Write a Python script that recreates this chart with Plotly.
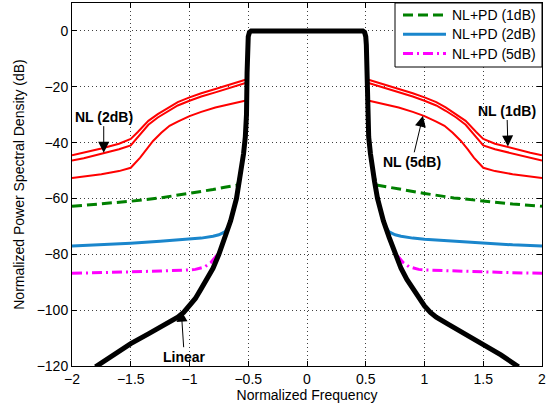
import plotly.graph_objects as go

# ---- data (positive-frequency half; every curve is mirrored onto the negative side) ----
freq_linear = [0, 0.475, 0.49, 0.5, 0.505, 0.51, 0.515, 0.525, 0.54, 0.555, 0.575, 0.6,
               0.65, 0.7, 0.75, 0.8, 0.85, 0.9, 0.95, 1.0, 1.05, 1.1, 1.2, 1.35, 1.5, 1.65, 1.8]
psd_linear = [0, 0, -0.5, -2, -5, -15, -30, -38, -44, -49, -54, -60,
              -68, -74, -80, -85, -89, -92.3, -95.8, -98.5, -100.8, -102.5, -105, -108.5,
              -112, -116, -120.3]

freq_pd1 = [0.56, 0.59, 0.7, 0.8, 0.9, 1.0, 1.25, 1.5, 1.75, 2.0]
psd_pd1 = [-50, -55.2, -56, -56.8, -57.4, -58.2, -59.8, -61, -62, -62.8]

freq_pd2 = [0.6, 0.64, 0.66, 0.7, 0.75, 0.8, 0.9, 1.0, 1.25, 1.5, 1.75, 2.0]
psd_pd2 = [-60, -67, -69.5, -72, -73, -73.5, -74.2, -74.6, -75.3, -76, -76.6, -77]

freq_pd5 = [0.7, 0.75, 0.78, 0.82, 0.87, 0.95, 1.0, 1.25, 1.5, 1.75, 2.0]
psd_pd5 = [-74, -79.5, -81, -83, -84.5, -85.4, -85.6, -86, -86.3, -86.6, -86.8]

freq_nl1 = [0.51, 0.55, 0.65, 0.78, 0.9, 1.0, 1.1, 1.18, 1.27, 1.35, 1.44, 1.5, 1.6, 1.75, 1.9, 2.0]
psd_nl1 = [-17.3, -17.8, -19.2, -20.8, -22.3, -23.8, -25.5, -27.4, -29.8, -32.2, -36.2, -38.7,
           -40.4, -42.1, -43.6, -44.5]

freq_nl2 = [0.51, 0.55, 0.65, 0.78, 0.9, 1.0, 1.1, 1.18, 1.27, 1.35, 1.44, 1.5, 1.6, 1.75, 1.9, 2.0]
psd_nl2 = [-18.5, -19, -20.4, -22, -23.5, -25, -26.7, -28.6, -31, -33.6, -38, -41,
           -42.4, -44, -45.6, -46.4]

freq_nl5 = [0.51, 0.55, 0.65, 0.78, 0.9, 1.0, 1.1, 1.17, 1.24, 1.31, 1.37, 1.42, 1.5, 1.6,
            1.75, 1.9, 2.0]
psd_nl5 = [-24.8, -25.2, -26.2, -27.4, -29, -30.5, -32.5, -34, -36.5, -39.4, -42.5, -45.4,
           -49, -50.2, -51.3, -52.2, -52.7]

pd_names = ["NL+PD (1dB)", "NL+PD (2dB)", "NL+PD (5dB)"]
pd_colors = ["#008000", "#1a86cc", "#ff00ff"]
pd_dashes = ["10px,5px", "solid", "10px,4px,2px,4px"]

x_ticks = [-2, -1.5, -1, -0.5, 0, 0.5, 1, 1.5, 2]
y_ticks = [-120, -100, -80, -60, -40, -20, 0]

FONT = "Liberation Sans, Arial, Helvetica, sans-serif"

W, H = 553, 410
ML, MR, MT, MB = 72, 11, 3, 44
PW, PH = W - ML - MR, H - MT - MB


def mirrored_split(f, v):
    """left branch (negative freq) + gap + right branch"""
    xs = [-a for a in reversed(f)] + [None] + list(f)
    ys = list(reversed(v)) + [None] + list(v)
    return xs, ys


def mirrored_joined(f, v):
    xs = [-a for a in reversed(f[1:])] + list(f)
    ys = list(reversed(v[1:])) + list(v)
    return xs, ys


def px_x(p):
    return (p - ML) / PW


def px_y(p):
    return (H - MB - p) / PH


fig = go.Figure()

# NL curves (red)
for f, v in [(freq_nl1, psd_nl1), (freq_nl2, psd_nl2), (freq_nl5, psd_nl5)]:
    xs, ys = mirrored_split(f, v)
    fig.add_trace(go.Scatter(x=xs, y=ys, mode="lines", showlegend=False,
                             line=dict(color="#ff0000", width=2)))

# NL+PD curves
for name, f, v, col, dash in zip(pd_names, [freq_pd1, freq_pd2, freq_pd5],
                                 [psd_pd1, psd_pd2, psd_pd5], pd_colors, pd_dashes):
    xs, ys = mirrored_split(f, v)
    fig.add_trace(go.Scatter(x=xs, y=ys, mode="lines", name=name, showlegend=False,
                             line=dict(color=col, width=3, dash=dash)))

# Linear (black, on top)
xs, ys = mirrored_joined(freq_linear, psd_linear)
fig.add_trace(go.Scatter(x=xs, y=ys, mode="lines", name="Linear", showlegend=False,
                         line=dict(color="black", width=5)))

ann_common = dict(showarrow=True, arrowhead=2, arrowsize=2.2, arrowwidth=1,
                  arrowcolor="black", standoff=0,
                  font=dict(family=FONT, size=14, color="black"))
annotations = [
    dict(x=-1.73, y=-43.6, ax=0, ay=-36, text="<b>NL (2dB)</b>", **ann_common),
    dict(x=1.71, y=-41.4, ax=-1, ay=-36, text="<b>NL (1dB)</b>", **ann_common),
    dict(x=0.987, y=-30.4, ax=-11, ay=46, text="<b>NL (5dB)</b>", **ann_common),
    dict(x=-1.07, y=-100.2, ax=3, ay=46, text="<b>Linear</b>", **ann_common),
]

# legend box (drawn in paper space, entries from the series styles)
shapes = [dict(type="rect", xref="paper", yref="paper", layer="above",
               x0=px_x(395), x1=1.0, y0=px_y(67), y1=1.0,
               line=dict(color="black", width=1), fillcolor="white")]
legend_rows = [15, 34.3, 53.5]
for name, col, dash, row in zip(pd_names, pd_colors, pd_dashes, legend_rows):
    shapes.append(dict(type="line", xref="paper", yref="paper", layer="above",
                       x0=px_x(403), x1=px_x(446), y0=px_y(row), y1=px_y(row),
                       line=dict(color=col, width=3, dash=dash)))
    annotations.append(dict(xref="paper", yref="paper", x=px_x(450), y=px_y(row),
                            xanchor="left", yanchor="middle", showarrow=False,
                            text=name, font=dict(family=FONT, size=14, color="black")))

axis_common = dict(showline=True, linecolor="black", linewidth=1, mirror="ticks",
                   ticks="inside", ticklen=5, tickcolor="black", tickwidth=1,
                   showgrid=True, gridcolor="rgba(0,0,0,0.75)", gridwidth=1,
                   griddash="1px,3px", zeroline=False, automargin=False,
                   tickfont=dict(family=FONT, size=14, color="black"))

fig.update_layout(
    width=W, height=H,
    margin=dict(l=ML, r=MR, t=MT, b=MB, autoexpand=False),
    paper_bgcolor="white", plot_bgcolor="white",
    font=dict(family=FONT, size=14, color="black"),
    showlegend=False,
    hovermode=False,
    annotations=annotations,
    shapes=shapes,
    xaxis=dict(range=[-2, 2], tickvals=x_ticks,
               title=dict(text="Normalized Frequency", standoff=4,
                          font=dict(family=FONT, size=14)),
               **axis_common),
    yaxis=dict(range=[-120, 10], tickvals=y_ticks,
               title=dict(text="Normalized Power Spectral Density (dB)", standoff=8,
                          font=dict(family=FONT, size=14)),
               **axis_common),
)

fig.write_html(
    "out.html",
    config={"displayModeBar": False},
    post_script="document.body.style.margin='0';document.body.style.overflow='hidden';",
)
